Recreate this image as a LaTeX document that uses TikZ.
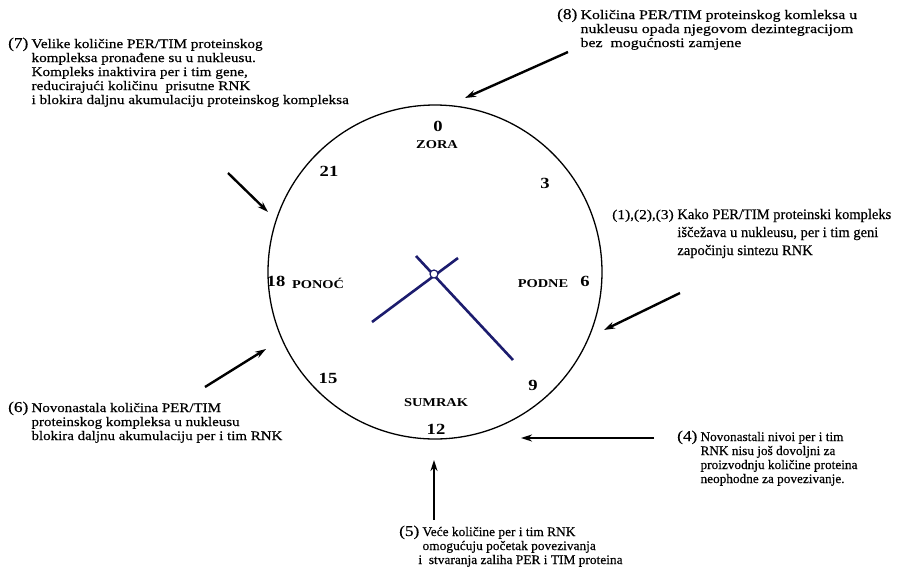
\documentclass[tikz,border=0pt]{standalone}
\usepackage{fontspec}
\usepackage{graphicx}
\setmainfont{Liberation Serif}
\newfontfamily\dialfont[FakeStretch=1.2]{Liberation Serif}
\newfontfamily\notefont[FakeBold=0.4]{Liberation Serif}
\newfontfamily\nrfont[FakeStretch=1.15,FakeBold=0.4]{Liberation Serif}
\usetikzlibrary{arrows.meta,positioning}
\definecolor{handblue}{RGB}{28,28,110}
\tikzset{
  note/.style={inner sep=0pt, anchor=base west, font=\notefont\fontsize{13}{14}\selectfont},
  hour/.style={inner sep=0pt, font=\dialfont\bfseries\fontsize{15.5}{16}\selectfont},
  phase/.style={inner sep=0pt, font=\dialfont\bfseries\fontsize{12}{13}\selectfont},
  arr/.style={line width=2.4pt, -{Stealth[length=11pt,width=7pt]}},
  hand/.style={handblue, line width=2.6pt},
}
\newcommand{\nr}[1]{{\nrfont\fontsize{15}{14}\selectfont(#1)}}
\newcommand{\nrs}[1]{{\nrfont\fontsize{13.5}{14}\selectfont(#1)}}
\newcommand{\notebox}[3]{#2\ \scalebox{#1}[1]{\begin{tabular}[t]{@{}l@{}}#3\end{tabular}}}
\begin{document}
\begin{tikzpicture}[x=1pt,y=-1pt]
  \useasboundingbox[fill=white] (0,0) rectangle (914,579);
  % dial
  \node[draw, circle, line width=1.3pt, minimum size=334pt, inner sep=0pt] (clock) at (435,272) {};
  \node[hour] (h0) at (438,126) {0};
  \node[phase] (zora) at (437,145) {ZORA};
  \node[hour] (h3) at (545,183) {3};
  \node[hour] (h21) at (329,171) {21};
  \node[hour] (h18) at (276,281) {18};
  \node[phase] (ponoc) at (318,283) {PONOĆ};
  \node[phase] (podne) at (543,284) {PODNE};
  \node[hour] (h6) at (585,281) {6};
  \node[hour] (h15) at (328,378) {15};
  \node[hour] (h9) at (533,385) {9};
  \node[phase] (sumrak) at (436,403) {SUMRAK};
  \node[hour] (h12) at (436,429) {12};
  % hands
  \coordinate (hsA) at (372,322);
  \coordinate (hsB) at (458,258);
  \coordinate (hlA) at (416,256);
  \coordinate (hlB) at (513,360);
  \draw[hand] (hsA) -- (hsB);
  \draw[hand] (hlA) -- (hlB);
  \node[draw=handblue, fill=white, circle, line width=1.2pt, minimum size=8pt, inner sep=0pt] (hub) at (434,274) {};
  % notes
  \node[note] (n7) at (8,48) {\notebox{1.17}{\nr{7}}{
    Velike količine PER/TIM proteinskog\\
    kompleksa pronađene su u nukleusu.\\
    Kompleks inaktivira per i tim gene,\\
    reducirajući količinu\ \ prisutne RNK\\
    i blokira daljnu akumulaciju proteinskog kompleksa}};
  \node[note] (n8) at (557,19) {\notebox{1.22}{\nr{8}}{
    Količina PER/TIM proteinskog komleksa u\\
    nukleusu opada njegovom dezintegracijom\\
    bez\ \ mogućnosti zamjene}};
  \node[note, font=\notefont\fontsize{14.5}{18}\selectfont] (n1) at (612,219) {\notebox{1.0}{\nrs{1},\nrs{2},\nrs{3}}{
    Kako PER/TIM proteinski kompleks\\
    iščežava u nukleusu, per i tim geni\\
    započinju sintezu RNK}};
  \node[note] (n6) at (8,412) {\notebox{1.15}{\nr{6}}{
    Novonastala količina PER/TIM\\
    proteinskog kompleksa u nukleusu\\
    blokira daljnu akumulaciju per i tim RNK}};
  \node[note] (n4) at (677,441) {\notebox{1.02}{\nr{4}}{
    Novonastali nivoi per i tim\\
    RNK nisu još dovoljni za\\
    proizvodnju količine proteina\\
    neophodne za povezivanje.}};
  \node[note] (n5) at (399,536) {\notebox{1.03}{\nr{5}}{
    Veće količine per i tim RNK\\
    omogućuju početak povezivanja\\
    \hspace{-4pt}i\ \ stvaranja zaliha PER i TIM proteina}};
  % arrows
  \coordinate (a8) at (568,52);   \coordinate (b8) at (465,98);
  \coordinate (a7) at (228,173);  \coordinate (b7) at (268,212);
  \coordinate (a1) at (680,293);  \coordinate (b1) at (604,330);
  \coordinate (a6) at (205,387);  \coordinate (b6) at (266,349);
  \coordinate (a4) at (654,438);  \coordinate (b4) at (521,438);
  \coordinate (a5) at (434,520);  \coordinate (b5) at (434,460);
  \foreach \k in {8,7,1,6,4,5}
    \draw[arr] (a\k) -- (b\k);
\end{tikzpicture}
\end{document}
